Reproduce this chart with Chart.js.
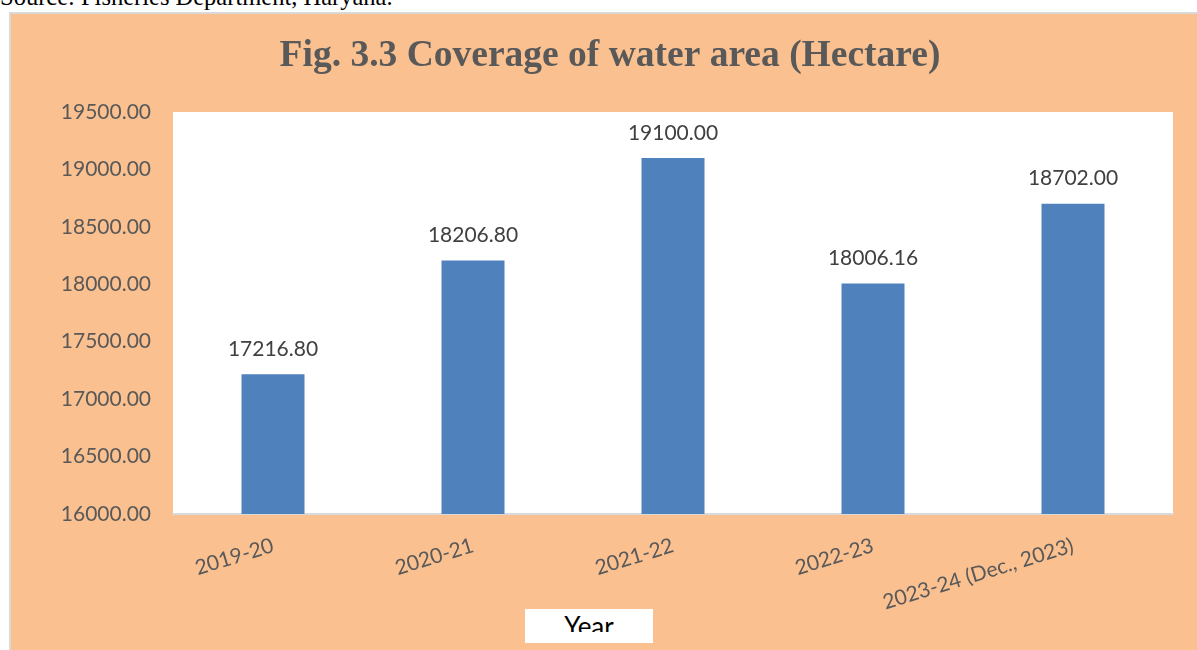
<!DOCTYPE html>
<html>
<head>
<meta charset="utf-8">
<script src="https://cdn.jsdelivr.net/npm/chart.js@4"></script>
<style>
  body { margin: 0; background: #fff; width: 1197px; height: 650px; overflow: hidden; position: relative; }
  #source { position: absolute; left: 0; top: -17px; font-family: "Liberation Serif", serif; font-size: 24.5px; color: #000; white-space: nowrap; }
  #frame { position: absolute; left: 9px; top: 12px; width: 1200px; height: 660px; border: 2px solid #d9d9d9; background: #FAC090; overflow: hidden; }
  #wrap { position: absolute; left: 0; top: 0; width: 1186px; height: 636px; }
  #yearBox { position: absolute; left: 514px; top: 595px; width: 128px; height: 34px; background: #fff; }
  #yearClip { height: 23px; overflow: hidden; }
  #yearText { font-family: Lato, sans-serif; font-size: 26px; line-height: 26px; padding-top: 4px; color: #000; text-align: center; }
</style>
</head>
<body>
<div id="source">Source: Fisheries Department, Haryana.</div>
<div id="frame">
  <div id="wrap"><canvas id="chart"></canvas></div>
  <div id="yearBox"><div id="yearClip"><div id="yearText">Year</div></div></div>
</div>
<script>
const years = ['2019-20', '2020-21', '2021-22', '2022-23', '2023-24 (Dec., 2023)'];
const waterArea = [17216.80, 18206.80, 19100.00, 18006.16, 18702.00];
const yMin = 16000;
const yMax = 19500;
const yStep = 500;

// white plot area behind the bars
const plotBackground = {
  id: 'plotBackground',
  beforeDraw(chart) {
    const { ctx, chartArea } = chart;
    ctx.save();
    ctx.fillStyle = '#ffffff';
    ctx.fillRect(chartArea.left, chartArea.top, chartArea.right - chartArea.left, chartArea.bottom - chartArea.top);
    ctx.restore();
  }
};

// value labels above each bar
const barValues = {
  id: 'barValues',
  afterDatasetsDraw(chart) {
    const { ctx } = chart;
    const meta = chart.getDatasetMeta(0);
    ctx.save();
    ctx.font = '21px Lato, sans-serif';
    ctx.fillStyle = '#404040';
    ctx.textAlign = 'center';
    ctx.textBaseline = 'middle';
    meta.data.forEach((bar, i) => {
      ctx.fillText(waterArea[i].toFixed(2), bar.x, bar.y - 25);
    });
    ctx.restore();
  }
};

new Chart(document.getElementById('chart'), {
  type: 'bar',
  data: {
    labels: years,
    datasets: [{
      label: 'Coverage of water area (Hectare)',
      data: waterArea,
      backgroundColor: '#4F81BD',
      borderWidth: 0,
      categoryPercentage: 1,
      barPercentage: 0.315
    }]
  },
  options: {
    responsive: true,
    maintainAspectRatio: false,
    animation: false,
    layout: { padding: { left: 36, right: 24 } },
    plugins: {
      legend: { display: false },
      tooltip: { enabled: false },
      title: {
        display: true,
        text: 'Fig. 3.3 Coverage of water area (Hectare)',
        color: '#595959',
        font: { family: '"Liberation Serif", serif', size: 37.5, weight: 'bold' },
        padding: { top: 20, bottom: 33 }
      }
    },
    scales: {
      x: {
        grid: { display: false, drawTicks: false },
        border: { display: true, color: '#d9d9d9', width: 2 },
        ticks: {
          color: '#595959',
          font: { family: 'Lato, sans-serif', size: 21 },
          minRotation: 17,
          maxRotation: 17,
          padding: 19,
          autoSkip: false
        },
        afterFit(scale) { scale.height = 136; }
      },
      y: {
        min: yMin,
        max: yMax,
        grid: { display: false, drawTicks: false },
        border: { display: false },
        ticks: {
          stepSize: yStep,
          color: '#595959',
          font: { family: 'Lato, sans-serif', size: 21 },
          padding: 22,
          callback: (v) => Number(v).toFixed(2)
        },
        afterFit(scale) { scale.width = 126; }
      }
    }
  },
  plugins: [plotBackground, barValues]
});
</script>
</body>
</html>
